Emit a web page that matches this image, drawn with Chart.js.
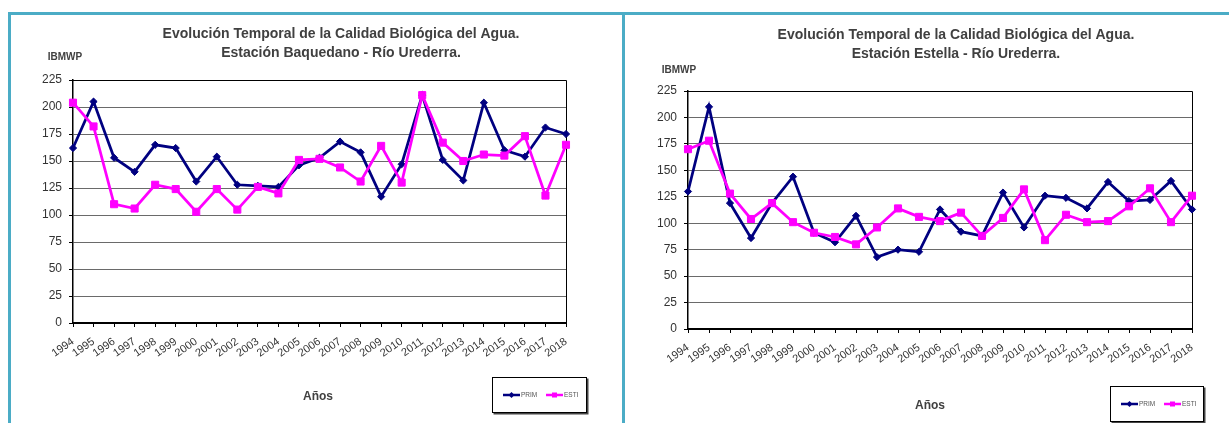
<!DOCTYPE html>
<html>
<head>
<meta charset="utf-8">
<script src="https://cdn.jsdelivr.net/npm/chart.js@4.4.1/dist/chart.umd.min.js"></script>
<style>
    body { margin: 0; background: #fff; width: 1229px; height: 423px; overflow: hidden; position: relative; }
    .panel { position: absolute; top: 0; height: 423px; }
    #leftPanel { left: 0; width: 620px; }
    #rightPanel { left: 625px; width: 604px; }
    .frame { position: absolute; background: #4bacc6; }
</style>
</head>
<body>
<div class="panel" id="leftPanel"><canvas id="baquedanoChart"></canvas></div>
<div class="panel" id="rightPanel"><canvas id="estellaChart"></canvas></div>
<div class="frame" style="left:8px;top:12px;width:1221px;height:3px"></div>
<div class="frame" style="left:8px;top:12px;width:3px;height:411px"></div>
<div class="frame" style="left:622px;top:12px;width:3px;height:411px"></div>
<script>
const years = ["1994", "1995", "1996", "1997", "1998", "1999", "2000", "2001", "2002", "2003", "2004", "2005", "2006",
    "2007", "2008", "2009", "2010", "2011", "2012", "2013", "2014", "2015", "2016", "2017", "2018"];

// Estación Baquedano
const baquedanoPrim = [162, 205, 153, 140, 165, 162, 131, 154, 128, 127, 126, 146, 153, 168, 158, 117, 147, 211, 151, 132, 204, 160, 154, 181, 175];
const baquedanoEsti = [204, 182, 110, 106, 128, 124, 103, 124, 105, 126, 120, 151, 152, 144, 131, 164, 130, 211, 167, 150, 156, 155, 173, 118, 165];

// Estación Estella
const estellaPrim = [130, 210, 119, 86, 119, 144, 91, 82, 107, 68, 75, 73, 113, 92, 88, 129, 96, 126, 124, 114, 139, 121, 122, 140, 113];
const estellaEsti = [170, 178, 128, 104, 119, 101, 91, 87, 80, 96, 114, 106, 102, 110, 88, 105, 132, 84, 108, 101, 102, 116, 133, 101, 126];

const seriesNames = ["PRIM", "ESTI"];
const yMax = 225;
const yStep = 25;

const FONT = '"Liberation Sans", Arial, sans-serif';
const PRIM_COLOR = "#000080";
const ESTI_COLOR = "#ff00ff";

function drawMarker(ctx, style, x, y, r, color) {
    ctx.fillStyle = color;
    ctx.beginPath();
    if (style === "rectRot") {
        ctx.moveTo(x, y - r);
        ctx.lineTo(x + r, y);
        ctx.lineTo(x, y + r);
        ctx.lineTo(x - r, y);
        ctx.closePath();
    } else {
        ctx.rect(x - r, y - r, 2 * r, 2 * r);
    }
    ctx.fill();
}

const plotFrame = {
    id: "plotFrame",
    beforeDatasetsDraw(chart) {
        const { ctx, chartArea: a } = chart;
        ctx.save();
        ctx.strokeStyle = "#000";
        ctx.lineWidth = 1;
        ctx.beginPath();
        ctx.moveTo(a.left, a.top + 0.5);
        ctx.lineTo(a.right + 0.5, a.top + 0.5);
        ctx.lineTo(a.right + 0.5, a.bottom);
        ctx.stroke();
        ctx.restore();
    },
    afterDraw(chart, args, opts) {
        const ctx = chart.ctx;
        ctx.save();
        ctx.fillStyle = "#404040";
        ctx.textAlign = "center";
        ctx.textBaseline = "alphabetic";
        ctx.font = `bold 14px ${FONT}`;
        opts.title.forEach((line, i) => ctx.fillText(line, opts.titleX, opts.titleY + i * 18.5));

        ctx.font = `bold 10px ${FONT}`;
        ctx.fillText("IBMWP", opts.yLabelX, opts.yLabelY);

        ctx.font = `bold 12px ${FONT}`;
        ctx.fillText("Años", opts.xLabelX, opts.xLabelY);

        // legend box, darker edge on the bottom and right
        const lg = opts.legend;
        ctx.fillStyle = "#444";
        ctx.fillRect(lg.x + 1.5, lg.y + 1.5, lg.w, lg.h);
        ctx.fillStyle = "#fff";
        ctx.fillRect(lg.x, lg.y, lg.w, lg.h);
        ctx.strokeStyle = "#000";
        ctx.lineWidth = 1;
        ctx.strokeRect(lg.x + 0.5, lg.y + 0.5, lg.w - 1, lg.h - 1);

        const cy = lg.y + lg.h / 2;
        ctx.font = `6.5px ${FONT}`;
        ctx.textAlign = "left";
        ctx.textBaseline = "middle";
        chart.data.datasets.forEach((ds, i) => {
            const lx = lg.x + 11 + i * 43;
            ctx.strokeStyle = ds.borderColor;
            ctx.lineWidth = 2.5;
            ctx.beginPath();
            ctx.moveTo(lx, cy);
            ctx.lineTo(lx + 17, cy);
            ctx.stroke();
            drawMarker(ctx, ds.pointStyle, lx + 8.5, cy, ds.pointStyle === "rect" ? 2.5 : 3, ds.borderColor);
            ctx.fillStyle = "#555";
            ctx.fillText(ds.label, lx + 18, cy + 0.5);
        });
        ctx.restore();
    }
};

function buildChart(canvasId, prim, esti, layout) {
    return new Chart(document.getElementById(canvasId), {
        type: "line",
        data: {
            labels: years,
            datasets: [
                {
                    label: seriesNames[0],
                    data: prim,
                    borderColor: PRIM_COLOR,
                    backgroundColor: PRIM_COLOR,
                    borderWidth: 2.75,
                    pointStyle: "rectRot",
                    pointRadius: 3.6,
                    pointBorderWidth: 1,
                    tension: 0,
                    clip: false,
                    order: 1
                },
                {
                    label: seriesNames[1],
                    data: esti,
                    borderColor: ESTI_COLOR,
                    backgroundColor: ESTI_COLOR,
                    borderWidth: 2.75,
                    pointStyle: "rect",
                    pointRadius: 5,
                    pointBorderWidth: 1,
                    tension: 0,
                    clip: false,
                    order: 0
                }
            ]
        },
        options: {
            responsive: true,
            maintainAspectRatio: false,
            animation: false,
            events: [],
            layout: { padding: layout.padding },
            plugins: {
                legend: { display: false },
                tooltip: { enabled: false },
                plotFrame: layout.decor
            },
            scales: {
                x: {
                    offset: false,
                    grid: { drawOnChartArea: false, drawTicks: true, tickLength: 4, tickColor: "#000" },
                    border: { color: "#000", width: 2 },
                    ticks: {
                        autoSkip: false,
                        minRotation: 35,
                        maxRotation: 35,
                        padding: 8,
                        color: "#333",
                        font: { family: FONT, size: 11 }
                    },
                    afterFit(scale) { scale.height = layout.xHeight; }
                },
                y: {
                    min: 0,
                    max: yMax,
                    grid: { color: "#6a6a6a", lineWidth: 1, tickLength: 4, tickColor: "#000" },
                    border: { color: "#000", width: 1.5 },
                    ticks: {
                        stepSize: yStep,
                        padding: 7,
                        color: "#333",
                        font: { family: FONT, size: 12 }
                    },
                    afterFit(scale) { scale.width = layout.yWidth; }
                }
            }
        },
        plugins: [plotFrame]
    });
}

buildChart("baquedanoChart", baquedanoPrim, baquedanoEsti, {
    padding: { top: 80, right: 54, bottom: 0, left: 0 },
    yWidth: 73,
    xHeight: 100,
    decor: {
        title: ["Evolución Temporal de la Calidad Biológica del Agua.", "Estación Baquedano - Río Urederra."],
        titleX: 341, titleY: 38,
        yLabelX: 65, yLabelY: 60,
        xLabelX: 318, xLabelY: 400,
        legend: { x: 492, y: 377, w: 95, h: 36 }
    }
});

buildChart("estellaChart", estellaPrim, estellaEsti, {
    padding: { top: 91, right: 37, bottom: 0, left: 0 },
    yWidth: 63,
    xHeight: 94,
    decor: {
        title: ["Evolución Temporal de la Calidad Biológica del Agua.", "Estación Estella - Río Urederra."],
        titleX: 331, titleY: 39,
        yLabelX: 54, yLabelY: 73,
        xLabelX: 305, xLabelY: 409,
        legend: { x: 485, y: 386, w: 94, h: 36 }
    }
});
</script>
</body>
</html>
